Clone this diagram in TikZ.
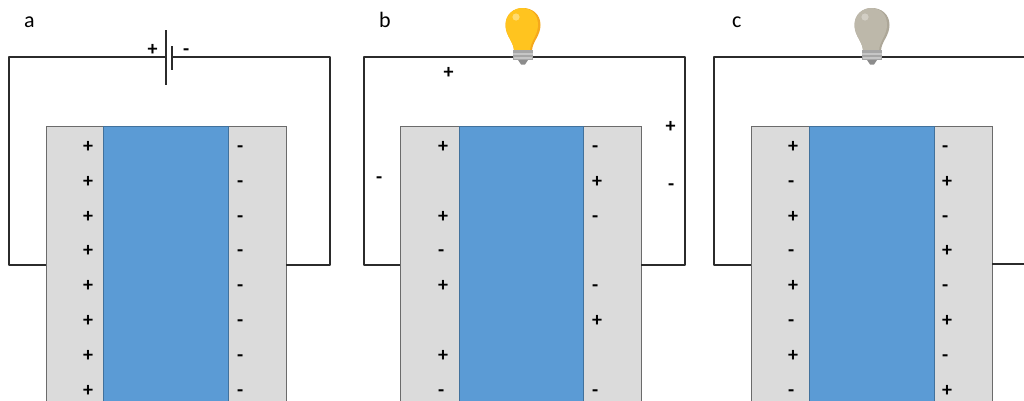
\documentclass[tikz,border=0pt]{standalone}
\usepackage{xcolor}
\usepackage{fontspec}
\setmainfont{Carlito}
\definecolor{plategray}{HTML}{DBDBDB}
\definecolor{cellblue}{HTML}{5B9BD5}
\definecolor{cellline}{HTML}{41719C}
\definecolor{wirecol}{HTML}{2B2B2B}
\definecolor{litdark}{HTML}{F5A81C}
\definecolor{litmain}{HTML}{FFC41F}
\definecolor{lithigh}{HTML}{FFDB70}
\definecolor{offdark}{HTML}{ADA798}
\definecolor{offmain}{HTML}{BDB8AA}
\definecolor{offhigh}{HTML}{D2CEC4}
\tikzset{
    wire/.style={draw=wirecol, line width=1.5pt, line join=round},
    plate/.style={draw=wirecol!70, fill=plategray, line width=1pt, anchor=north west, minimum height=290pt, inner sep=0pt, outer sep=0pt},
    cell/.style={plate, draw=cellline, fill=cellblue},
    sign/.style={anchor=base west, inner sep=0pt, font=\fontsize{20}{22}\selectfont\bfseries},
    letter/.style={anchor=base west, inner sep=0pt, font=\fontsize{22}{24}\selectfont},
    pics/bulb/.style n args={3}{code={
        \fill[#1] (-9,51) .. controls (-9,42) and (-17.5,36) .. (-17.5,25)
            .. controls (-17.5,14) and (-9,8) .. (0,8)
            .. controls (9,8) and (17.5,14) .. (17.5,25)
            .. controls (17.5,36) and (9,42) .. (9,51) -- cycle;
        \fill[#2] (-9,51) .. controls (-9,42) and (-17.5,36) .. (-17.5,25)
            .. controls (-17.5,14) and (-9,8) .. (-1,8)
            .. controls (8,8) and (15,14) .. (15,25)
            .. controls (15,35) and (7,42) .. (7,51) -- cycle;
        \fill[#3] (-7,17) circle (3.6);
        \fill[gray!70] (-10,50) rectangle (10,60);
        \fill[gray!45] (-10,53) rectangle (10,55);
        \fill[gray!45] (-9,57) rectangle (9,58.5);
        \fill[gray!90] (-5,60) -- (5,60) -- (2,64.5) -- (-2,64.5) -- cycle;
    }}
}
\begin{document}
\begin{tikzpicture}[x=1pt, y=-1pt]
    \clip (0,0) rectangle (1024,400);

    % plates and cells
    \foreach \p/\xa/\xb/\xc in {a/46/103/228, b/400/459/583, c/751/809/934} {
        \node[plate, minimum width=\xb pt-\xa pt] (left\p) at (\xa,126) {};
        \node[plate, minimum width=58pt] (right\p) at (\xc,126) {};
        \node[cell, minimum width=\xc pt-\xb pt] (cell\p) at (\xb,126) {};
    }

    % panel a
    \node[letter] (labela) at (24,27) {a};
    \coordinate (aIn) at (46,265);
    \coordinate (aOut) at (286,265);
    \coordinate (aTL) at (9,57);
    \coordinate (aTR) at (330,57);
    \coordinate (batL) at (166,57);
    \coordinate (batR) at (172,57);
    \coordinate (batLa) at (166,30);
    \coordinate (batLb) at (166,85);
    \coordinate (batRa) at (172,46);
    \coordinate (batRb) at (172,70);
    \draw[wire] (aIn) -| (aTL) -- (batL);
    \draw[wire] (aOut) -| (aTR) -- (batR);
    \draw[wire] (batLa) -- (batLb);
    \draw[wire] (batRa) -- (batRb);
    \node[sign] (batplus) at (147.5,55) {+};
    \node[sign] (batminus) at (183,55) {-};
    \foreach \y in {146,181,216,250,285,320,355,390} {
        \node[sign] (al\y) at (83,\y+6.5) {+};
        \node[sign] (ar\y) at (237,\y+6.5) {-};
    }

    % panel b
    \node[letter] (labelb) at (379,27) {b};
    \coordinate (bIn) at (400,265);
    \coordinate (bOut) at (641,265);
    \coordinate (bTL) at (364,57);
    \coordinate (bTR) at (685,57);
    \coordinate (bulbb) at (523,0);
    \draw[wire] (bIn) -| (bTL) -- (bTR) |- (bOut);
    \pic at (bulbb) {bulb={litdark}{litmain}{lithigh}};
    \node[sign] (bs1) at (443.5,78.5) {+};
    \node[sign] (bs2) at (376,183.5) {-};
    \node[sign] (bs3) at (665.5,132.5) {+};
    \node[sign] (bs4) at (668,190.5) {-};
    \foreach \y/\s in {146/+, 216/+, 250/-, 285/+, 355/+, 390/-}
        \node[sign] (bl\y) at (438,\y+6.5) {\s};
    \foreach \y/\s in {146/-, 181/+, 216/-, 285/-, 320/+, 390/-}
        \node[sign] (br\y) at (592,\y+6.5) {\s};

    % panel c
    \node[letter] (labelc) at (732,27) {c};
    \coordinate (cIn) at (751,265);
    \coordinate (cOut) at (992,264);
    \coordinate (cTL) at (714,57);
    \coordinate (cTR) at (1024,57);
    \coordinate (cEnd) at (1024,264);
    \coordinate (bulbc) at (872,0);
    \draw[wire] (cIn) -| (cTL) -- (cTR);
    \draw[wire] (cOut) -- (cEnd);
    \pic at (bulbc) {bulb={offdark}{offmain}{offhigh}};
    \foreach \y/\s in {146/+, 181/-, 216/+, 250/-, 285/+, 320/-, 355/+, 390/-}
        \node[sign] (cl\y) at (788,\y+6.5) {\s};
    \foreach \y/\s in {146/-, 181/+, 216/-, 250/+, 285/-, 320/+, 355/-, 390/+}
        \node[sign] (cr\y) at (942,\y+6.5) {\s};
\end{tikzpicture}
\end{document}
